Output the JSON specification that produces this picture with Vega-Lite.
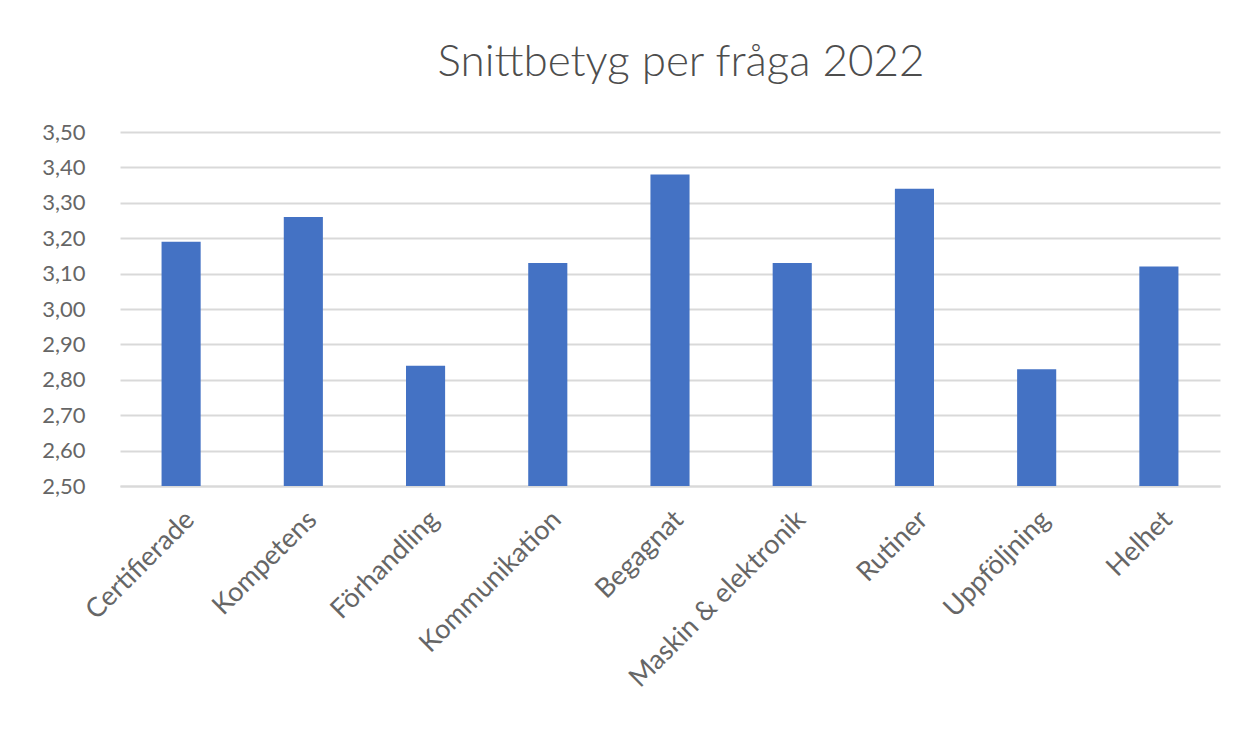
{
  "$schema": "https://vega.github.io/schema/vega-lite/v6.json",
  "autosize": {"type": "none"},
  "padding": {"left": 120, "top": 132, "right": 37, "bottom": 245},
  "width": 1100,
  "height": 354,
  "background": "white",
  "title": {
    "text": "Snittbetyg per fråga 2022",
    "fontSize": 44,
    "font": "Lato",
    "fontWeight": 300,
    "color": "#4d4d4d",
    "anchor": "middle",
    "dx": 11,
    "offset": 36
  },
  "data": {
    "values": [
      {"fraga": "Certifierade", "betyg": 3.19},
      {"fraga": "Kompetens", "betyg": 3.26},
      {"fraga": "Förhandling", "betyg": 2.84},
      {"fraga": "Kommunikation", "betyg": 3.13},
      {"fraga": "Begagnat", "betyg": 3.38},
      {"fraga": "Maskin & elektronik", "betyg": 3.13},
      {"fraga": "Rutiner", "betyg": 3.34},
      {"fraga": "Uppföljning", "betyg": 2.83},
      {"fraga": "Helhet", "betyg": 3.12}
    ]
  },
  "mark": {"type": "bar", "color": "#4472C4", "clip": true},
  "encoding": {
    "x": {
      "field": "fraga",
      "type": "nominal",
      "sort": null,
      "title": null,
      "scale": {"paddingInner": 0.68, "paddingOuter": 0.34},
      "axis": {
        "labelAngle": -45,
        "labelFont": "Lato",
        "labelFontSize": 27,
        "labelFontWeight": 400,
        "labelLimit": 500,
        "labelColor": "#666666",
        "labelPadding": 20,
        "ticks": false,
        "domainColor": "#D9D9D9",
        "domainWidth": 2
      }
    },
    "y": {
      "field": "betyg",
      "type": "quantitative",
      "title": null,
      "scale": {"domain": [2.5, 3.5], "zero": false, "nice": false},
      "axis": {
        "values": [2.5, 2.6, 2.7, 2.8, 2.9, 3.0, 3.1, 3.2, 3.3, 3.4, 3.5],
        "labelExpr": "replace(format(datum.value, '.2f'), '.', ',')",
        "labelFont": "Lato",
        "labelFontSize": 22,
        "labelFontWeight": 400,
        "labelColor": "#666666",
        "labelPadding": 35,
        "ticks": false,
        "domain": false,
        "grid": true,
        "gridColor": "#D9D9D9",
        "gridWidth": 2
      }
    }
  },
  "config": {"view": {"stroke": null}}
}
